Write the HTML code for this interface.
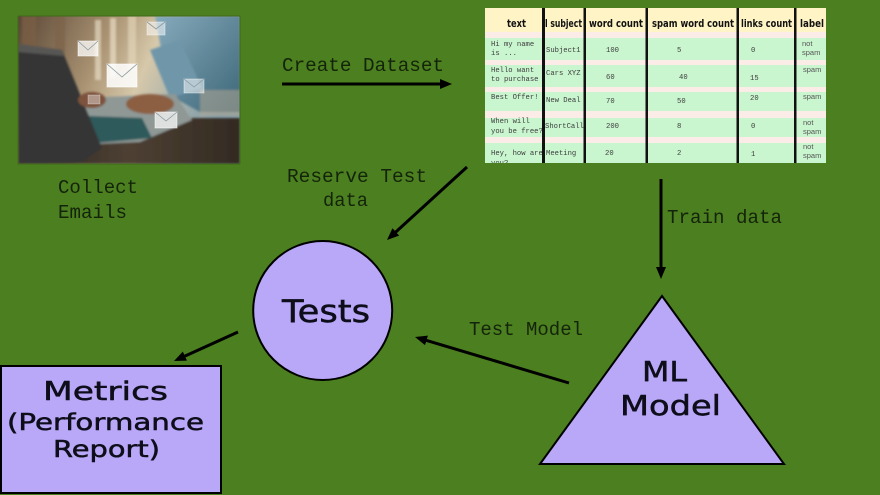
<!DOCTYPE html>
<html><head><meta charset="utf-8"><style>
html,body{margin:0;padding:0;background:#4b7f1f;}
svg{display:block;}
</style></head><body>
<svg width="880" height="495" viewBox="0 0 880 495" xmlns="http://www.w3.org/2000/svg">
<defs>
<marker id="ah" viewBox="0 0 12 10" refX="4" refY="5" markerWidth="12" markerHeight="10" markerUnits="userSpaceOnUse" orient="auto"><path d="M0,0 L12,5 L0,10 z" fill="#000"/></marker>
<clipPath id="tbl"><rect x="485" y="8" width="341" height="155"/></clipPath>
<clipPath id="ph"><rect x="18" y="16" width="222" height="148"/></clipPath>
<linearGradient id="bgph" x1="0" y1="0" x2="1" y2="0.3"><stop offset="0" stop-color="#5a4636"/><stop offset="0.4" stop-color="#a99272"/><stop offset="0.62" stop-color="#d6c8aa"/><stop offset="1" stop-color="#7f9caa"/></linearGradient>
<linearGradient id="shirt" x1="0" y1="0" x2="1" y2="1"><stop offset="0" stop-color="#86aabc"/><stop offset="1" stop-color="#3d6778"/></linearGradient>
<linearGradient id="desk" x1="0" y1="0" x2="1" y2="0"><stop offset="0" stop-color="#2a2721"/><stop offset="0.5" stop-color="#4e4033"/><stop offset="1" stop-color="#332a23"/></linearGradient>
<filter id="bl"><feGaussianBlur stdDeviation="1"/></filter>
</defs>
<rect width="880" height="495" fill="#4b7f1f"/>

<!-- Photo -->
<g clip-path="url(#ph)">
<rect x="18" y="16" width="222" height="148" fill="url(#bgph)"/>
<g filter="url(#bl)">
<rect x="22" y="16" width="14" height="50" fill="#7a5e45" opacity="0.8"/>
<rect x="55" y="16" width="10" height="70" fill="#7c6248" opacity="0.7"/>
<rect x="95" y="20" width="6" height="60" fill="#efe6cf" opacity="0.6"/>
<rect x="110" y="18" width="6" height="60" fill="#f3ead2" opacity="0.6"/>
<rect x="128" y="16" width="8" height="55" fill="#efe4c8" opacity="0.5"/>
<polygon points="155,16 240,16 240,112 200,112 178,100 165,70" fill="url(#shirt)"/>
<polygon points="150,50 180,40 202,88 170,98" fill="#6f96a9"/>
<polygon points="18,118 240,118 240,164 18,164" fill="url(#desk)"/>
<polygon points="80,98 175,94 192,120 140,142 98,144" fill="#8f9895"/>
<polygon points="88,116 142,118 152,138 96,143" fill="#2f5a5c"/>
<polygon points="18,44 62,50 102,148 82,162 18,164" fill="#353534"/>
<polygon points="18,44 62,50 64,56 18,52" fill="#575755"/>
<ellipse cx="92" cy="100" rx="14" ry="8" fill="#7d533c"/>
<ellipse cx="150" cy="104" rx="24" ry="10" fill="#8c5e43"/>
<rect x="200" y="90" width="40" height="26" fill="#b9aa92" opacity="0.5"/>
</g>
<g fill="#ffffff" stroke="#ffffff">
<rect x="78" y="41" width="20" height="15" fill-opacity="0.75" stroke-opacity="0.5"/>
<rect x="107" y="64" width="30" height="23" fill-opacity="0.85" stroke-opacity="0.6"/>
<rect x="147" y="22" width="18" height="13" fill-opacity="0.5" stroke-opacity="0.4"/>
<rect x="184" y="79" width="20" height="14" fill-opacity="0.5" stroke-opacity="0.4"/>
<rect x="155" y="112" width="22" height="16" fill-opacity="0.7" stroke-opacity="0.5"/>
<rect x="88" y="95" width="12" height="9" fill-opacity="0.4" stroke-opacity="0.3"/>
</g>
<g fill="none" stroke="#8a9aa0" stroke-width="0.8">
<polyline points="78,41 88,50 98,41"/>
<polyline points="107,64 122,77 137,64"/>
<polyline points="147,22 156,29 165,22"/>
<polyline points="184,79 194,87 204,79"/>
<polyline points="155,112 166,121 177,112"/>
</g>
</g>
<rect x="18" y="16" width="222" height="148" fill="none" stroke="#3f6a1a" stroke-width="1"/>

<!-- Table -->
<g clip-path="url(#tbl)">
<rect x="485" y="8" width="341" height="155" fill="#c9f6cf"/>
<rect x="485" y="8" width="341" height="24" fill="#fff4c6"/>
<rect x="485" y="32" width="341" height="6" fill="#fbece7"/>
<rect x="485" y="60" width="341" height="5" fill="#fbece7"/>
<rect x="485" y="87" width="341" height="5" fill="#fbece7"/>
<rect x="485" y="111" width="341" height="7" fill="#fbece7"/>
<rect x="485" y="137" width="341" height="6" fill="#fbece7"/>
<g fill="#111" font-family="'DejaVu Sans','Liberation Sans',sans-serif" font-weight="bold" font-size="10.5">
<text x="507" y="27" textLength="19" lengthAdjust="spacingAndGlyphs">text</text>
<text x="545" y="27" textLength="37" lengthAdjust="spacingAndGlyphs">l subject</text>
<text x="589" y="27" textLength="54" lengthAdjust="spacingAndGlyphs">word count</text>
<text x="652" y="27" textLength="82" lengthAdjust="spacingAndGlyphs">spam word count</text>
<text x="741" y="27" textLength="51" lengthAdjust="spacingAndGlyphs">links count</text>
<text x="800" y="27" textLength="24" lengthAdjust="spacingAndGlyphs">label</text>
</g>
<g fill="#3c3c3c" font-family="'Liberation Mono',monospace" font-size="7.2">
<text x="491" y="46">Hi my name</text>
<text x="491" y="55">is ...</text>
<text x="546" y="52">Subject1</text>
<text x="606" y="52">100</text>
<text x="677" y="52">5</text>
<text x="751" y="52">0</text>
<text x="491" y="72">Hello want</text>
<text x="491" y="81">to purchase</text>
<text x="546" y="75">Cars XYZ</text>
<text x="606" y="79">60</text>
<text x="679" y="79">40</text>
<text x="750" y="80">15</text>
<text x="491" y="99">Best Offer!</text>
<text x="546" y="102">New Deal</text>
<text x="606" y="103">70</text>
<text x="677" y="103">50</text>
<text x="750" y="100">20</text>
<text x="491" y="123">When will</text>
<text x="491" y="133">you be free?</text>
<text x="545" y="128">ShortCall</text>
<text x="606" y="128">200</text>
<text x="677" y="128">8</text>
<text x="751" y="128">0</text>
<text x="491" y="155">Hey, how are</text>
<text x="491" y="165">you? ...</text>
<text x="546" y="155">Meeting</text>
<text x="605" y="155">20</text>
<text x="677" y="155">2</text>
<text x="751" y="156">1</text>
</g>
<g fill="#555" font-family="'Liberation Sans',sans-serif" font-size="7.5">
<text x="802" y="46">not</text>
<text x="802" y="55">spam</text>
<text x="803" y="72">spam</text>
<text x="803" y="99">spam</text>
<text x="803" y="125">not</text>
<text x="803" y="134">spam</text>
<text x="803" y="149">not</text>
<text x="803" y="158">spam</text>
</g>
<g fill="#111">
<rect x="542" y="8" width="3" height="155"/>
<rect x="583.5" y="8" width="2.5" height="155"/>
<rect x="645.5" y="8" width="2.5" height="155"/>
<rect x="736.5" y="8" width="2.5" height="155"/>
<rect x="794" y="8" width="2.5" height="155"/>
</g>
</g>

<!-- Connectors -->
<g stroke="#000" stroke-width="3" fill="none" marker-end="url(#ah)">
<line x1="282" y1="84" x2="444" y2="84"/>
<line x1="467" y1="167" x2="392.9" y2="234.6"/>
<line x1="661" y1="179" x2="661" y2="271"/>
<line x1="569" y1="383" x2="422.7" y2="339.3"/>
<line x1="238" y1="332" x2="181.3" y2="357.7"/>
</g>

<!-- Labels -->
<g fill="#14240a" font-family="'Liberation Mono',monospace" font-size="19">
<text x="282" y="71" textLength="162" lengthAdjust="spacingAndGlyphs">Create Dataset</text>
<text x="58" y="193" textLength="80" lengthAdjust="spacingAndGlyphs">Collect</text>
<text x="58" y="218" textLength="69" lengthAdjust="spacingAndGlyphs">Emails</text>
<text x="287" y="182" textLength="140" lengthAdjust="spacingAndGlyphs">Reserve Test</text>
<text x="323" y="206" textLength="45" lengthAdjust="spacingAndGlyphs">data</text>
<text x="667" y="223" textLength="115" lengthAdjust="spacingAndGlyphs">Train data</text>
<text x="469" y="335" textLength="114" lengthAdjust="spacingAndGlyphs">Test Model</text>
</g>

<!-- Nodes -->
<circle cx="322.7" cy="310.5" r="69.5" fill="#b9a7f8" stroke="#000" stroke-width="2"/>
<polygon points="662,296 540,464 784,464" fill="#b9a7f8" stroke="#000" stroke-width="2" stroke-linejoin="miter"/>
<rect x="1" y="366" width="220" height="127" fill="#b9a7f8" stroke="#000" stroke-width="2"/>

<g fill="#0e0e1a" stroke="#0e0e1a" stroke-width="0.5" font-family="'DejaVu Sans','Liberation Sans',sans-serif">
<text x="282" y="322" font-size="31" textLength="88" lengthAdjust="spacingAndGlyphs">Tests</text>
<text x="642" y="381" font-size="28" textLength="45" lengthAdjust="spacingAndGlyphs">ML</text>
<text x="620" y="415" font-size="28" textLength="101" lengthAdjust="spacingAndGlyphs">Model</text>
<text x="43" y="400" font-size="26" textLength="125" lengthAdjust="spacingAndGlyphs">Metrics</text>
<text x="7" y="430" font-size="23" textLength="197" lengthAdjust="spacingAndGlyphs">(Performance</text>
<text x="53" y="457" font-size="23" textLength="107" lengthAdjust="spacingAndGlyphs">Report)</text>
</g>
</svg>
</body></html>
